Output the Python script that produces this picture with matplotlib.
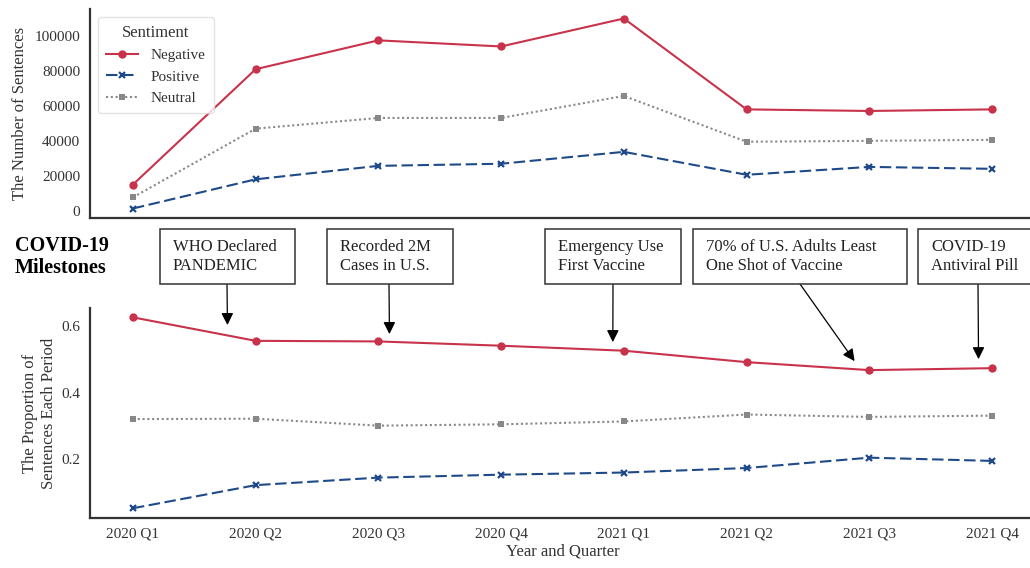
import numpy as np
import matplotlib
matplotlib.use("Agg")
import matplotlib.pyplot as plt
from matplotlib.patches import Rectangle

plt.rcParams["font.family"] = ["Liberation Serif", "DejaVu Serif"]

quarters = ["2020 Q1", "2020 Q2", "2020 Q3", "2020 Q4",
            "2021 Q1", "2021 Q2", "2021 Q3", "2021 Q4"]
negative = [15000, 81000, 97500, 94000, 110000, 58000, 57100, 58000]
positive = [1300, 18000, 25700, 26900, 33700, 20600, 25100, 24000]
neutral = [7700, 47000, 53100, 53100, 65700, 39500, 40000, 40600]

milestone_text = ["WHO Declared\nPANDEMIC", "Recorded 2M\nCases in U.S.",
                  "Emergency Use\nFirst Vaccine",
                  "70% of U.S. Adults Least\nOne Shot of Vaccine",
                  "COVID-19\nAntiviral Pill"]
milestone_x = [0.77, 2.09, 3.91, 5.88, 6.89]
milestone_y = [0.602, 0.575, 0.551, 0.494, 0.50]

series = [
    ("Negative", negative, dict(color="#c8334b", ls="-", marker="o", ms=6, mew=0)),
    ("Positive", positive, dict(color="#1f4a8a", ls=(0, (5.5, 2.2)), marker="x", ms=5, mew=1.6)),
    ("Neutral", neutral, dict(color="#888888", ls=(0, (1, 1.3)), marker="s", ms=4, mew=0)),
]

counts = np.array([negative, positive, neutral], dtype=float)
shares = counts / counts.sum(axis=0)

W, H = 1030, 568
fig = plt.figure(figsize=(W / 100, H / 100), dpi=100)

def axes_px(left, top, right, bottom):
    return fig.add_axes([left / W, 1 - bottom / H, (right - left) / W, (bottom - top) / H])

ax1 = axes_px(90, 9, 1035, 218)
ax2 = axes_px(90, 308, 1035, 518)

x = np.arange(len(quarters))
for (name, vals, st), share in zip(series, shares):
    ax1.plot(x, vals, label=name, lw=1.5, **st)
    ax2.plot(x, share, lw=1.5, **st)

for ax in (ax1, ax2):
    ax.set_xlim(-0.35, 7.35)
    for side in ("top", "right"):
        ax.spines[side].set_visible(False)
    for side in ("left", "bottom"):
        ax.spines[side].set_color("#333333")
        ax.spines[side].set_linewidth(1.6)
    ax.tick_params(axis="both", length=0, labelsize=11, pad=7, labelcolor="#333333")

ax1.set_ylim(-4135, 115435)
ax1.set_yticks([0, 20000, 40000, 60000, 80000, 100000])
ax1.set_xticks(x)
ax1.set_xticklabels([])
ax1.set_ylabel("The Number of Sentences", fontsize=12, color="#333333", labelpad=5)

ax2.set_ylim(0.025, 0.653)
ax2.set_yticks([0.2, 0.4, 0.6])
ax2.set_yticklabels(["0.2", "0.4", "0.6"])
ax2.set_xticks(x)
ax2.set_xticklabels(quarters)
ax2.set_ylabel("The Proportion of\nSentences Each Period", fontsize=12,
               color="#333333", labelpad=3, linespacing=1.25)
ax2.set_xlabel("Year and Quarter", fontsize=12, color="#333333", labelpad=2)

leg = ax1.legend(title="Sentiment", loc="upper left", fontsize=11, title_fontsize=12,
                 frameon=True, fancybox=True, borderaxespad=0.5, borderpad=0.55,
                 bbox_to_anchor=(0.0, 1.0), handlelength=2.1, labelspacing=0.5,
                 handletextpad=0.8)
leg.get_frame().set_edgecolor("#dddddd")
for t in leg.get_texts():
    t.set_color("#333333")
leg.get_title().set_color("#333333")

fig.text(15 / W, 1 - 257 / H, "COVID-19\nMilestones", fontsize=14.5, fontweight="bold",
         ha="left", va="center", linespacing=1.15)

# milestone boxes: left/right edges in pixels, and where each arrow leaves the box
box_edges = [(160, 295), (327, 453), (545, 681), (693, 907), (918, 1050)]
arrow_start = [227, 389, 613, 800, 978]
box_top, box_bottom = 229, 284
for txt, (bl, br), ax_, mx, my in zip(milestone_text, box_edges, arrow_start,
                                      milestone_x, milestone_y):
    fig.patches.append(Rectangle((bl / W, 1 - box_bottom / H), (br - bl) / W,
                                 (box_bottom - box_top) / H, transform=fig.transFigure,
                                 fc="white", ec="#333333", lw=1.1))
    fig.text((bl + 13) / W, 1 - (box_top + box_bottom) / 2 / H, txt, fontsize=12,
             ha="left", va="center", linespacing=1.25, color="#222222")
    ax2.annotate("", xy=(mx, my), xycoords="data",
                 xytext=(ax_ / W, 1 - box_bottom / H), textcoords="figure fraction",
                 arrowprops=dict(arrowstyle="-|>", color="black", lw=0.9,
                                 mutation_scale=18, shrinkA=0, shrinkB=0),
                 annotation_clip=False)

fig.savefig("out.png", dpi=100)
